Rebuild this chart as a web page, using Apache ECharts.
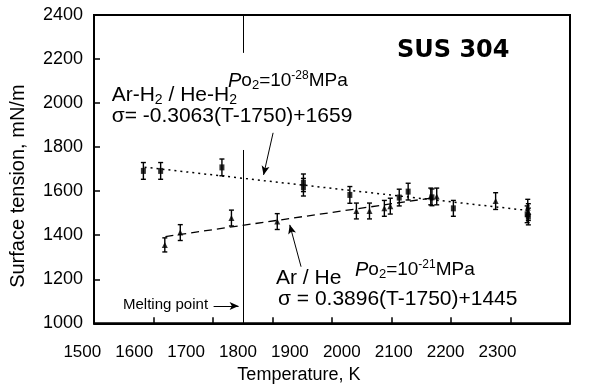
<!DOCTYPE html>
<html>
<head>
<meta charset="utf-8">
<script src="https://cdn.jsdelivr.net/npm/echarts@6.0.0/dist/echarts.min.js"></script>
<style>
  html, body { margin: 0; padding: 0; background: #fff; }
  #chart { width: 597px; height: 389px; }
</style>
</head>
<body>
<div id="chart"></div>
<script>
// Ar-H2 / He-H2 (squares)
var sqT   = [1583, 1612, 1715, 1852, 1852, 1930, 2013, 2028, 2068, 2104, 2228, 2230];
var sqS   = [1692, 1692, 1708, 1638, 1618, 1583, 1571, 1598, 1572, 1522, 1495, 1485];
var sqErr = [38, 38, 38, 40, 40, 38, 38, 38, 38, 36, 38, 38];

// Ar / He (triangles)
var triT   = [1619, 1645, 1731, 1808, 1941, 1963, 1988, 1998, 2066, 2076, 2175, 2229, 2230];
var triS   = [1356, 1412, 1478, 1462, 1510, 1510, 1522, 1532, 1576, 1576, 1555, 1525, 1505];
var triErr = [32, 36, 36, 36, 36, 36, 36, 36, 38, 38, 38, 38, 38];

// fitted lines, end points
var fitUpT = [1585, 2230];
var fitUpS = [1709, 1512];
var fitLoT = [1620, 2070];
var fitLoS = [1394, 1570];

var xTicks = ['1500', '1600', '1700', '1800', '1900', '2000', '2100', '2200', '2300'];
var meltT = 1750;

var FONT = '"Liberation Sans", Arial, sans-serif';

function zip(a, b) {
    return a.map(function (v, i) { return [v, b[i]]; });
}
function errData(t, s, e) {
    return t.map(function (v, i) { return [v, s[i] - e[i], s[i] + e[i]]; });
}
function errRender(params, api) {
    var top = api.coord([api.value(0), api.value(2)]);
    var bot = api.coord([api.value(0), api.value(1)]);
    var w = 2.5;
    var st = { stroke: '#000', lineWidth: 1.4 };
    return {
        type: 'group',
        children: [
            { type: 'line', shape: { x1: top[0], y1: top[1], x2: bot[0], y2: bot[1] }, style: st },
            { type: 'line', shape: { x1: top[0] - w, y1: top[1], x2: top[0] + w, y2: top[1] }, style: st },
            { type: 'line', shape: { x1: bot[0] - w, y1: bot[1], x2: bot[0] + w, y2: bot[1] }, style: st }
        ]
    };
}

var rich = {
    n: { fontFamily: FONT, fontSize: 21, lineHeight: 24, color: '#000' },
    s: { fontFamily: FONT, fontSize: 14, lineHeight: 14, verticalAlign: 'bottom', color: '#000' },
    m: { fontFamily: FONT, fontSize: 19, lineHeight: 22, color: '#000' },
    mi: { fontFamily: FONT, fontSize: 20, lineHeight: 22, fontStyle: 'italic', color: '#000' },
    ms: { fontFamily: FONT, fontSize: 13, lineHeight: 13, verticalAlign: 'bottom', color: '#000' },
    mp: { fontFamily: FONT, fontSize: 12, lineHeight: 12, verticalAlign: 'top', color: '#000' }
};

function txt(x, y, text, extra) {
    var style = { x: x, y: y, text: text, rich: rich, verticalAlign: 'top', fill: '#000' };
    if (extra) for (var k in extra) style[k] = extra[k];
    return { type: 'text', z: 100, style: style };
}

var myChart = echarts.init(document.getElementById('chart'));
myChart.setOption({
    animation: false,
    backgroundColor: '#fff',
    grid: [
        { left: 93.5, right: 27, top: 15, bottom: 65.7, show: true, borderColor: '#000', borderWidth: 2 },
        { left: 82.3, width: 415.2, top: 15, bottom: 65.7 }
    ],
    xAxis: [{
        type: 'value',
        min: 1500,
        max: 2300,
        interval: 100,
        axisLine: { lineStyle: { color: '#000', width: 2 } },
        axisTick: { inside: true, length: 6, lineStyle: { color: '#000', width: 1.5 } },
        axisLabel: { show: false },
        splitLine: { show: false }
    }, {
        type: 'category',
        gridIndex: 1,
        data: xTicks,
        boundaryGap: false,
        axisLine: { show: false },
        axisTick: { show: false },
        axisLabel: { margin: 28, fontSize: 17, fontFamily: FONT, color: '#000' },
        name: 'Temperature, K',
        nameLocation: 'middle',
        nameGap: 47,
        nameTextStyle: { fontSize: 18, fontFamily: FONT, color: '#000', padding: [0, 0, 0, 18] }
    }],
    yAxis: [{
        type: 'value',
        min: 1000,
        max: 2400,
        interval: 200,
        axisLine: { show: true, lineStyle: { color: '#000', width: 2 } },
        axisTick: { show: true, inside: true, length: 6, lineStyle: { color: '#000', width: 1.5 } },
        axisLabel: {
            margin: 11, fontSize: 18, fontFamily: FONT, color: '#000',
            formatter: function (v) { return String(v); }
        },
        splitLine: { show: false },
        name: 'Surface tension, mN/m',
        nameLocation: 'middle',
        nameGap: 66,
        nameTextStyle: { fontSize: 20, fontFamily: FONT, color: '#000', padding: [0, 34, 0, 0] }
    }, {
        type: 'value',
        gridIndex: 1,
        min: 1000,
        max: 2400,
        show: false
    }],
    series: [{
        type: 'line',
        data: zip(fitUpT, fitUpS),
        showSymbol: false,
        lineStyle: { color: '#000', width: 1.5, type: [2, 4] },
        silent: true,
        markLine: {
            silent: true,
            symbol: ['none', 'none'],
            label: { show: false },
            lineStyle: { color: '#000', width: 1, type: 'solid' },
            data: [
                [{ coord: [meltT, 2400] }, { coord: [meltT, 2228] }],
                [{ coord: [meltT, 1787] }, { coord: [meltT, 1000] }]
            ]
        }
    }, {
        type: 'line',
        data: zip(fitLoT, fitLoS),
        showSymbol: false,
        lineStyle: { color: '#000', width: 1.3, type: [8, 5] },
        silent: true,
        markLine: {
            silent: true,
            symbol: ['none', 'arrow'],
            symbolSize: [6, 9],
            label: { show: false },
            lineStyle: { color: '#000', width: 1, type: 'solid' },
            data: [
                [{ coord: [1801, 1865] }, { coord: [1785, 1674] }],
                [{ coord: [1848, 1257] }, { coord: [1829, 1447] }],
                [{ coord: [1701, 1079] }, { coord: [1743, 1079] }]
            ]
        }
    }, {
        type: 'custom',
        renderItem: errRender,
        data: errData(sqT, sqS, sqErr),
        encode: { x: 0, y: [1, 2] },
        silent: true,
        z: 3
    }, {
        type: 'custom',
        renderItem: errRender,
        data: errData(triT, triS, triErr),
        encode: { x: 0, y: [1, 2] },
        silent: true,
        z: 3
    }, {
        name: 'Ar-H2 / He-H2',
        type: 'scatter',
        symbol: 'rect',
        symbolSize: [5, 6],
        itemStyle: { color: '#000' },
        data: zip(sqT, sqS),
        z: 4
    }, {
        name: 'Ar / He',
        type: 'scatter',
        symbol: 'triangle',
        symbolSize: [6, 6],
        itemStyle: { color: '#000' },
        data: zip(triT, triS),
        z: 4
    }],
    graphic: [
        txt(397, 39, 'SUS 304', { fontFamily: '"DejaVu Sans", Verdana, sans-serif', fontWeight: 'bold', fontSize: 24 }),
        txt(228, 70, '{mi|P}{m|o}{ms|2}{m|=10}{mp|-28}{m|MPa}'),
        txt(111.7, 83.5, '{n|Ar-H}{s|2}{n| / He-H}{s|2}'),
        txt(111.7, 104.5, '{n|σ= -0.3063(T-1750)+1659}'),
        txt(276, 266, '{n|Ar / He}'),
        txt(278, 287.5, '{n|σ = 0.3896(T-1750)+1445}'),
        txt(355, 259, '{mi|P}{m|o}{ms|2}{m|=10}{mp|-21}{m|MPa}'),
        txt(123, 297, 'Melting point', { fontFamily: FONT, fontSize: 15 })
    ]
});
</script>
</body>
</html>
